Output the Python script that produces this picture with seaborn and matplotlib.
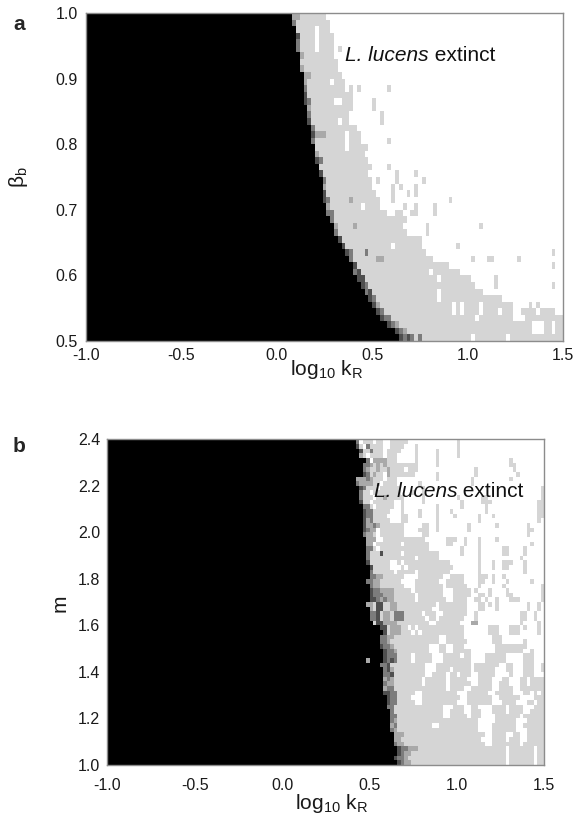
import numpy as np
import pandas as pd
import matplotlib
matplotlib.use("Agg")
import matplotlib.pyplot as plt
import seaborn as sns
from matplotlib.colors import ListedColormap

# ---------------- data ----------------
# x axis: log10 kR from -1.0 to 1.5, cells of 0.02 (125 columns)
X_MIN, X_MAX, X_STEP = -1.0, 1.5, 0.02
x_ticks = [-1.0, -0.5, 0.0, 0.5, 1.0, 1.5]
x_tick_labels = ["-1.0", "-0.5", "0.0", "0.5", "1.0", "1.5"]

# panel a: beta_b from 1.0 (top row) to 0.5, cells of 0.01 (50 rows)
A_Y_TOP, A_Y_BOTTOM, A_Y_STEP = 1.0, 0.5, 0.01
a_y_ticks = [0.5, 0.6, 0.7, 0.8, 0.9, 1.0]
a_y_tick_labels = ["0.5", "0.6", "0.7", "0.8", "0.9", "1.0"]

# panel b: m from 2.4 (top row) to 1.0, cells of 0.02 (70 rows)
B_Y_TOP, B_Y_BOTTOM, B_Y_STEP = 2.4, 1.0, 0.02
b_y_ticks = [1.0, 1.2, 1.4, 1.6, 1.8, 2.0, 2.2, 2.4]
b_y_tick_labels = ["1.0", "1.2", "1.4", "1.6", "1.8", "2.0", "2.2", "2.4"]

# cell classes: K black ... L light gray, '.' white (L. lucens extinct)
levels = ["K", "D", "M", "G", "L", "."]
level_colors = ["#000000", "#4f4f4f", "#7c7c7c", "#a9a9a9", "#d5d5d5", "#ffffff"]

# panel a: all cells with x < 0.0 are black (50 columns); rows below
# are run-length strings for x = 0.0 .. 1.5 (75 columns), top row first
a_left_black_cols = 50
a_rows = [
    "K4 G2 L7",
    "K4 M1 L9",
    "K5 L5 .1 L3",
    "K5 D1 L4 .1 L4",
    "K5 M1 L4 .1 L4",
    "K5 M1 L4 .1 L4 .1 L1",
    "K6 G1 L8",
    "K6 L10",
    "K6 G1 L9",
    "K7 G2 L8",
    "K7 G1 L6 .1 L3",
    "K7 M1 L10 .1 L1 .1 L1 .7 L1",
    "K7 D1 L12",
    "K7 D1 M1 L6 .2 L3 .5 L1",
    "K8 G1 L11 .5 L1",
    "K8 M1 L10 .8 L1",
    "K8 D1 L7 .1 L2 .8 L1",
    "K9 M1 L11",
    "K9 D1 G3 L5 .1 L3",
    "K9 M1 L8 .1 L3 .7 L1",
    "K10 L8 .1 L5",
    "K10 G1 L12",
    "K10 D1 M1 L12",
    "K11 L14 .4 L1",
    "K11 D1 L12 .7 L1 .4 L1",
    "K12 M1 L12 .1 L1 .4 L1 .6 L1",
    "K12 G1 L12 .5 L1 .1 L1 .3 L1",
    "K12 D1 L13 .4 L1 .3 L1 .1 L1",
    "K12 D1 M1 L5 G1 L7 .3 L1 .14 L1",
    "K13 G1 L8 .1 L4 .6 L1 .2 L1 .4 L1",
    "K13 M2 L14 .2 L2 .2 L2 .4 L1",
    "K14 M1 L19",
    "K15 G1 L4 G1 L12 .6 L1 .13 L1",
    "K15 M1 L18 .5 L1",
    "K16 D1 L21",
    "K17 D1 L12 .1 L7 .9 L1",
    "K18 D1 M1 L3 M1 L15 .33 L1",
    "K19 M1 L6 G2 L13 .10 L1 .3 L2 .6 L1",
    "K20 D1 L24 .27 L1",
    "K20 M1 D1 L18 .1 L7",
    "K21 D2 L19 .1 L8 .6 L1",
    "K22 D1 M1 L28 .5 L1 .14 L1",
    "K23 M1 D1 L17 .1 L11",
    "K24 D1 M1 L16 .1 L16",
    "K25 D1 G1 L19 .1 L1 .1 L4 .1 L8 .4 L1 .1 L1",
    "K26 D1 M1 L18 .1 L1 .1 L4 .1 L4 .1 L3 .2 L4 .1 L4 .2",
    "K27 D1 M2 L22 .1 L9 .3 L10",
    "K29 D1 M1 G1 L35 .3 L2 .1 L2",
    "K31 D1 M1 G1 L33 .3 L2 .1 L2",
    "K32 D1 M1 D1 M1 L1 M1 L13 .1 L8 .1 L14",
]

# panel b: all cells with x < 0.4 are black (70 columns); rows below
# are run-length strings for x = 0.4 .. 1.5 (55 columns), top row first
b_left_black_cols = 70
b_rows = [
    "K1 M1 .1 L3 .1 L2 .2 L5 .14 L1",
    "K1 D1 L1 .1 M1 L4 .2 L4 .3 L1 .11 L1",
    "K2 D1 L2 M1 L3 .1 L4 .4 L1 .5 L1 .5 L1",
    "K2 G1 L1 .1 L4 .1 L3 .5 L1 .5 L1 .5 L1",
    "K4 M1 .1 G4 L3 .5 L1 .5 L1 .20 L1",
    "K3 M2 G1 L1 G1 L1 G1 L9 .5 L1 .20 L2",
    "K3 M1 G1 L2 G1 L2 G1 L4 .1 L3 .16 L1 .10 L1",
    "K3 D1 M1 L1 G1 L2 .1 G1 L7 .6 L1 .10 L1 .11 L1",
    "K1 G3 M1 G1 L3 .1 L3 .11 L1 .9 L1 .10 L1",
    "K1 M1 G4 L2 .1 L4 .6 L1 .14 L1",
    "K2 D1 M1 L3 .1 L6 .6 L1 .33 L1",
    "K2 M1 L2 .1 L8 .3 L1 .2 L1 .33 L1",
    "K2 M1 L3 .1 L2 G1 L5 .5 L1 .9 L1 .6 L2 .15 L1",
    "K2 D1 L2 .1 L6 .2 L1 .5 L1 .10 L1 .5 L3 .13 L2",
    "K3 M2 L1 .1 L5 .2 L1 .9 L1 .6 L1 .6 L1 .14 L2",
    "K3 D1 M2 L5 .3 L1 .4 L1 .4 L1 .3 L1 .9 L1 .14 L2",
    "K3 D1 M2 L4 .4 L2 .3 L1 .4 L1 .4 L1 .6 L1 .3 L1 .12 L2",
    "K3 D1 G1 M1 L5 .3 L2 .8 L1 .11 L1 .16 L1",
    "K3 D1 G2 M1 G1 L7 .5 L2 .2 L1 .8 L1 .7 L1 .8 L1",
    "K3 D1 M1 G2 .1 L7 .4 L3 .2 L1 .8 L1 .16 L2",
    "K3 M1 G2 L1 .1 L7 .5 L2 .28 L1",
    "K4 G3 .2 L12 .6 L3 .2 L1 .3 L1 .4 L1",
    "K4 G2 .1 L7 .1 L7 .5 L2 .3 L1 .3 L1 .14 L1",
    "K4 M2 L1 .1 L14 .9 L1 .4 L1 .6 L2 .4 L1",
    "K4 M1 L3 D1 L5 .1 L10 .6 L1 .4 L1 .6 L2 .4 L1",
    "K4 M1 L13 .1 L6 .11 L1 .11 L1",
    "K4 D1 L6 .2 L1 .1 L13 .8 L1 .3 L1 .2 L3 .3 L1",
    "K5 D1 L5 .3 L1 .1 L13 .7 L1 .3 L1 .2 L2 .4 L1",
    "K5 M1 L6 .1 L5 .1 L9 .8 L1 .12 L1",
    "K5 M2 G2 L6 .4 L7 .2 L4 .4 L3 .1 L1 .2 L1",
    "K4 M2 G2 L6 .4 L7 .2 L5 .4 L2 .2 L1 .3 L1 .6 L1",
    "K5 M1 G2 L7 .3 L8 .1 L6 .3 L1 .6 L1 .10 L1",
    "K5 D1 M2 G4 L5 .1 L8 .3 L5 .1 L1 .3 L1 .4 L1 .9 L1",
    "K5 D1 M3 G3 L6 .1 L7 .3 L5 .2 L2 .1 L1 .4 L2 .8 L1",
    "K5 D2 M1 G1 M1 G2 L6 .1 L8 .2 L4 .2 L2 .1 L1 .2 L1 .3 L3 .6 L1",
    "K4 G2 L1 D2 L2 G2 L11 .1 L8 .3 L2 .1 L1 .1 L1 .8 L1 .2 L1",
    "K5 G1 L1 D2 L2 G2 L10 .2 L8 .3 L2 .3 L1 .8 L1 .2 L1",
    "K5 M2 D1 L1 G2 L1 M3 L5 .1 L3 .2 L7 .2 L1 .12 L2 .2 L1",
    "K5 M2 D1 L1 G2 L1 M3 L6 .1 L2 .1 L7 .3 L1 .12 L2 .2 L1",
    "K6 L1 D2 G4 L9 .2 L7 .3 G2 .12 L1 .4 L1",
    "K8 D2 L1 G3 L2 .1 L1 .1 L13 .7 L3 .3 L3 .1 L1 .3 L1",
    "K9 D1 L1 G3 L3 .1 L1 .1 L12 .7 L3 .3 L3 .5 L1",
    "K8 M2 G2 L13 .2 L5 .8 L3",
    "K8 M2 G1 L14 .2 L6 .7 L3 .6 L1",
    "K8 D1 M2 G1 L10 .3 L2 .2 L3 .9 L9",
    "K9 D1 M2 G1 L9 .3 L2 .2 L5 .7 L8 .2 L1",
    "K9 D1 M3 L4 .1 L5 .3 L5 .1 L2 .4 L6 .5 L3",
    "K4 G1 K4 D1 M1 D1 M1 L4 .1 L5 .3 L8 .4 L6 .5 L3",
    "K8 M2 D1 L10 .3 L10 .1 L7 .2 L2 .3 L3 .2 L1",
    "K9 M1 D1 G1 L9 .3 L4 .1 L5 .1 L6 .3 L2 .3 L3 .2 L1",
    "K9 M2 D1 L9 .2 L4 .1 L2 .1 L3 .2 L5 .4 L1 .3 L3",
    "K9 G1 M1 G1 L8 .1 L6 .1 L5 .3 L4 .3 L2 .3 L2 .1 L4",
    "K9 M1 G2 L8 .1 L6 .1 L6 .2 L4 .2 L3 .3 L2 .1 L4",
    "K9 G1 M2 L15 .1 L4 .2 L6 .2 L4 .2 L7",
    "K9 D2 M2 L5 .2 L10 .3 L6 .2 L5 .3 L2 .1 L1 .1 L1",
    "K10 D1 M2 L4 .3 L11 .2 L7 .2 L6 .4 L3",
    "K10 D1 M2 L5 .2 L10 .3 L7 .3 L4 .3 L2 .1 L2",
    "K10 M2 L14 .3 L3 .2 L2 .4 L4 .1 L4 .3 L3",
    "K11 M1 L14 .2 L4 .2 L3 .3 L4 .1 L4 .2 L4",
    "K11 M2 L13 .2 L5 .1 L3 .4 L7 .1 L6",
    "K11 M1 G1 L23 .5 L6 .3 L5",
    "K11 G1 M1 L10 .2 L11 .4 L7 .2 L6",
    "K11 M1 G1 L23 .4 L7 .3 L5",
    "K12 G3 L23 .2 L4 .2 L2 .2 L5",
    "K12 G2 L23 .3 L4 .1 L3 .2 L5",
    "K12 M1 G2 L23 .2 L8 .1 L6",
    "K13 D1 M2 G3 L25 .1 L7 .1 L2",
    "K13 D1 M1 G2 L27 .1 L7 .1 L2",
    "K12 D1 M2 G1 L28 .1 L7 .1 L2",
    "K13 D1 M1 G2 L27 .1 L7 .1 L2",
]


def decode(rle, width):
    s = "".join(tok[0] * int(tok[1:]) for tok in rle.split())
    return s.ljust(width, ".")[:width]


def build_frame(rows, left_black, y_top, y_step):
    n_cols = int(round((X_MAX - X_MIN) / X_STEP))
    right_w = n_cols - left_black
    data = []
    for r in rows:
        line = "K" * left_black + decode(r, right_w)
        data.append([levels.index(c) for c in line])
    cols = np.round(X_MIN + X_STEP * np.arange(n_cols), 2)
    idx = np.round(y_top - y_step * np.arange(len(rows)), 2)
    return pd.DataFrame(data, index=idx, columns=cols)


df_a = build_frame(a_rows, a_left_black_cols, A_Y_TOP, A_Y_STEP)
df_b = build_frame(b_rows, b_left_black_cols, B_Y_TOP, B_Y_STEP)

# ---------------- drawing ----------------
sns.set_style("white")
plt.rcParams["font.family"] = ["Liberation Sans", "DejaVu Sans"]
plt.rcParams["mathtext.default"] = "regular"

W, H = 578, 821
fig = plt.figure(figsize=(W / 100, H / 100), dpi=100)
ax_a = fig.add_axes([86 / W, 1 - 341 / H, 477 / W, 328 / H])
ax_b = fig.add_axes([107.3 / W, 1 - 765 / H, 437 / W, 325.7 / H])

cmap = ListedColormap(level_colors)


def draw(ax, df, y_top, y_step, yticks, yticklabels, ylabel, ylabel_xy,
         xlabel_xy, xpad, ypad, text_xy):
    sns.heatmap(df, ax=ax, cmap=cmap, vmin=-0.5, vmax=len(levels) - 0.5,
                cbar=False, xticklabels=False, yticklabels=False,
                linewidths=0, rasterized=True)
    ax.set_xticks([(v - X_MIN) / X_STEP for v in x_ticks])
    ax.set_xticklabels(x_tick_labels, rotation=0)
    ax.set_yticks([(y_top - v) / y_step for v in yticks])
    ax.set_yticklabels(yticklabels, rotation=0)
    ax.tick_params(axis="both", length=0, labelsize=11.5, colors="#1a1a1a")
    ax.tick_params(axis="x", pad=xpad)
    ax.tick_params(axis="y", pad=ypad)
    for sp in ax.spines.values():
        sp.set_visible(True)
        sp.set_color("#8c8c8c")
        sp.set_linewidth(1.0)
    ax.set_xlabel("log$_{10}$ k$_{R}$", fontsize=15, color="#1a1a1a")
    ax.xaxis.set_label_coords(*xlabel_xy)
    ax.xaxis.label.set_va("center")
    ax.set_ylabel(ylabel, fontsize=15, color="#1a1a1a")
    ax.yaxis.set_label_coords(*ylabel_xy)
    ax.yaxis.label.set_va("center")
    t1 = ax.text(text_xy[0], text_xy[1], "L. lucens", style="italic",
                 fontsize=15, transform=ax.transAxes, ha="left",
                 va="baseline", color="#111111")
    ax.annotate(" extinct", xy=(1, 0), xycoords=t1, ha="left", va="bottom",
                fontsize=15, color="#111111")


draw(ax_a, df_a, A_Y_TOP, A_Y_STEP, a_y_ticks, a_y_tick_labels,
     r"$\beta_b$", (-0.142, 0.5), (0.505, -0.088), 5, 6, (0.543, 0.855))
draw(ax_b, df_b, B_Y_TOP, B_Y_STEP, b_y_ticks, b_y_tick_labels,
     "m", (-0.108, 0.497), (0.513, -0.117), 9, 5, (0.610, 0.823))

fig.text(13 / W, 1 - 30 / H, "a", fontsize=15, fontweight="bold",
         ha="left", va="baseline")
fig.text(13 / W, 1 - 452 / H, "b", fontsize=15, fontweight="bold",
         ha="left", va="baseline")

fig.savefig("out.png", dpi=100)
